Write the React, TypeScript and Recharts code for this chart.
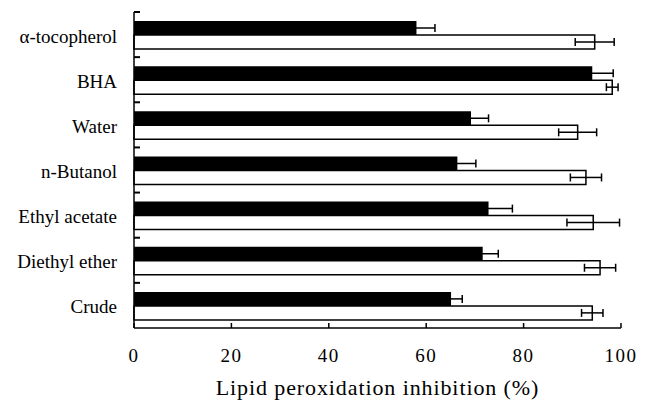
import { BarChart, Bar, XAxis, YAxis, ErrorBar } from "recharts";

const extracts = [
  "α-tocopherol",
  "BHA",
  "Water",
  "n-Butanol",
  "Ethyl acetate",
  "Diethyl ether",
  "Crude",
];

// filled (black) bars
const blackValues = [58.0, 94.1, 69.2, 66.4, 72.8, 71.6, 65.1];
const blackErrors = [3.8, 4.3, 3.6, 3.8, 4.9, 3.2, 2.3];

// open (white) bars
const whiteValues = [94.6, 98.2, 91.1, 92.8, 94.3, 95.7, 94.1];
const whiteErrors = [4.0, 1.2, 3.9, 3.2, 5.4, 3.2, 2.2];

const xTicks = [0, 20, 40, 60, 80, 100];

const data = extracts.map((name, i) => ({
  name,
  black: blackValues[i],
  blackErr: blackErrors[i],
  white: whiteValues[i],
  whiteErr: whiteErrors[i],
}));

const font = "Liberation Serif";

const W = 648;
const H = 403;
const MARGIN = { top: 12, right: 27, bottom: 0, left: 0 };
const X_AXIS_H = 75;
const Y_AXIS_W = 134;
const LABEL_GAP = 17;
const HALF_BAND = (H - MARGIN.top - MARGIN.bottom - X_AXIS_H) / extracts.length / 2;

// category label plus a small inward tick at the top edge of each band
function CategoryTick(props: any) {
  const { x, y, payload } = props;
  const axisX = x + LABEL_GAP;
  const top = y - HALF_BAND;
  return (
    <g>
      <line x1={axisX} x2={axisX + 6} y1={top} y2={top} stroke="#000" strokeWidth={2} />
      <text x={x} y={y} dy={8} textAnchor="end" fontFamily={font} fontSize={19} fill="#000">
        {payload.value}
      </text>
    </g>
  );
}

export default function App() {
  return (
    <div style={{ position: "absolute", left: 0, top: 0, background: "#fff" }}>
      <BarChart
        width={W}
        height={H}
        data={data}
        layout="vertical"
        margin={MARGIN}
        barCategoryGap="20%"
        barGap={0}
      >
        <XAxis
          type="number"
          domain={[0, 100]}
          ticks={xTicks}
          height={X_AXIS_H}
          stroke="#000"
          strokeWidth={1.5}
          tickSize={-5}
          tickMargin={26}
          tick={{ fontFamily: font, fontSize: 19, fill: "#000", letterSpacing: 1.5 }}
          label={{
            value: "Lipid peroxidation inhibition (%)",
            position: "insideBottom",
            offset: 8,
            fontFamily: font,
            fontSize: 22,
            letterSpacing: 0.9,
            fill: "#000",
          }}
        />
        <YAxis
          type="category"
          dataKey="name"
          width={Y_AXIS_W}
          stroke="#000"
          strokeWidth={1.5}
          tickLine={false}
          tickSize={0}
          tickMargin={LABEL_GAP}
          tick={<CategoryTick />}
          interval={0}
        />
        <Bar dataKey="black" fill="#000" isAnimationActive={false}>
          <ErrorBar dataKey="blackErr" direction="x" width={4} stroke="#000" strokeWidth={1.5} />
        </Bar>
        <Bar dataKey="white" fill="#fff" stroke="#000" strokeWidth={1.5} isAnimationActive={false}>
          <ErrorBar dataKey="whiteErr" direction="x" width={4} stroke="#000" strokeWidth={1.5} />
        </Bar>
      </BarChart>
    </div>
  );
}
